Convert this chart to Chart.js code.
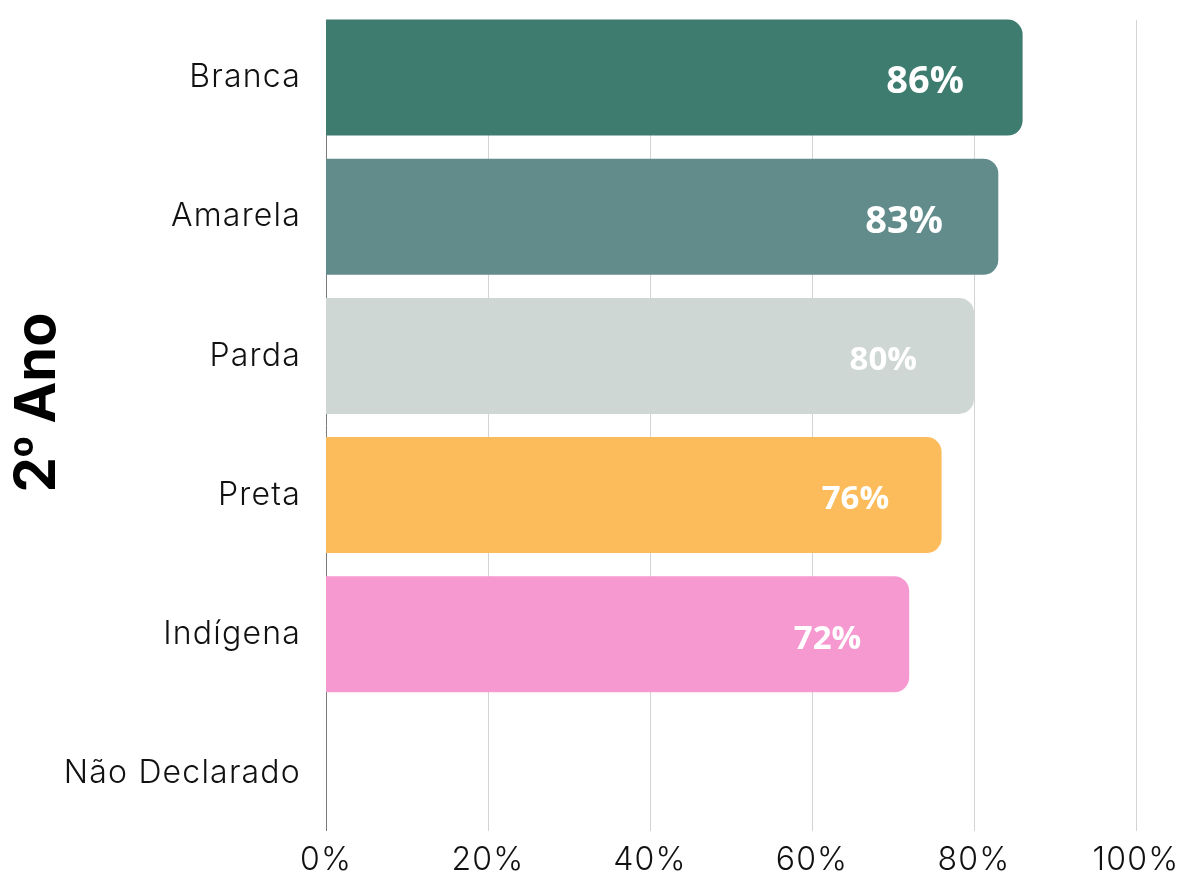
<!DOCTYPE html>
<html>
<head>
<meta charset="utf-8">
<script src="https://cdn.jsdelivr.net/npm/chart.js@4/dist/chart.umd.min.js"></script>
<style>
  html, body { margin: 0; padding: 0; background: #fff; }
  #wrap { width: 1189px; height: 874px; }
</style>
</head>
<body>
<div id="wrap"><canvas id="myChart" width="1189" height="874"></canvas></div>
<script>
const categories = ['Branca', 'Amarela', 'Parda', 'Preta', 'Indígena', 'Não Declarado'];
const values = [86, 83, 80, 76, 72, null];
const xTicks = [0, 20, 40, 60, 80, 100];
const axisTitle = '2º Ano';

const barColors = ['#3e7c6f', '#628b8c', '#cfd7d4', '#fdbc5b', '#f699d0', '#cccccc'];
const labelSizes = [38, 38, 33, 33, 33, 33];

// a little tracking on the axis text (canvas state is reset on resize, so set it per update)
const tracking = {
  id: 'tracking',
  beforeUpdate(chart) { chart.ctx.letterSpacing = '1.2px'; },
  beforeDraw(chart) { chart.ctx.letterSpacing = '1.2px'; }
};

// vertical grid lines, only as tall as the bars
const barGrid = {
  id: 'barGrid',
  beforeDatasetsDraw(chart) {
    const { ctx, scales: { x, y } } = chart;
    const half = chart.getDatasetMeta(0).data[0].height / 2;
    const top = Math.round(y.getPixelForValue(0) - half);
    const bottom = Math.round(y.getPixelForValue(categories.length - 1) + half);
    ctx.save();
    ctx.lineWidth = 1;
    xTicks.forEach((t, i) => {
      const px = Math.round(x.getPixelForValue(t)) + 0.5;
      ctx.strokeStyle = i === 0 ? '#7a7a7a' : '#d3d3d3';
      ctx.beginPath();
      ctx.moveTo(px, top);
      ctx.lineTo(px, bottom);
      ctx.stroke();
    });
    ctx.restore();
  }
};

// white percentage labels inside the bars
const barLabels = {
  id: 'barLabels',
  afterDatasetsDraw(chart) {
    const { ctx } = chart;
    const meta = chart.getDatasetMeta(0);
    ctx.save();
    ctx.letterSpacing = '0px';
    ctx.fillStyle = '#ffffff';
    ctx.textAlign = 'center';
    ctx.textBaseline = 'middle';
    meta.data.forEach((bar, i) => {
      const v = values[i];
      if (v == null) return;
      ctx.font = 'bold ' + labelSizes[i] + 'px "Open Sans"';
      const cx = bar.base + (bar.x - bar.base) * 0.86;
      ctx.fillText(v + '%', cx, bar.y + 5);
    });
    ctx.restore();
  }
};

// rotated "2º Ano" title left of the category labels; the º comes from
// Liberation Sans so it keeps its underline
const sideTitle = {
  id: 'sideTitle',
  afterDraw(chart) {
    const { ctx, chartArea } = chart;
    const fontFor = ch => ch === 'º' ? 'bold 56px "Liberation Sans"' : 'bold 56px Inter';
    const chars = Array.from(axisTitle);
    ctx.save();
    ctx.letterSpacing = '0px';
    ctx.translate(38, (chartArea.top + chartArea.bottom) / 2 - 23);
    ctx.rotate(-Math.PI / 2);
    ctx.fillStyle = '#000';
    ctx.textAlign = 'left';
    ctx.textBaseline = 'middle';
    let total = 0;
    chars.forEach(ch => { ctx.font = fontFor(ch); total += ctx.measureText(ch).width; });
    let pos = -total / 2;
    chars.forEach(ch => {
      ctx.font = fontFor(ch);
      ctx.fillText(ch, pos, 0);
      pos += ctx.measureText(ch).width;
    });
    ctx.restore();
  }
};

const ctx = document.getElementById('myChart').getContext('2d');
new Chart(ctx, {
  type: 'bar',
  data: {
    labels: categories,
    datasets: [{
      data: values,
      backgroundColor: barColors,
      borderRadius: 15,
      borderSkipped: 'start',
      categoryPercentage: 1,
      barPercentage: 0.834
    }]
  },
  options: {
    indexAxis: 'y',
    responsive: false,
    animation: false,
    layout: { padding: { top: 8, right: 53, left: 0, bottom: 0 } },
    plugins: {
      legend: { display: false },
      tooltip: { enabled: false }
    },
    scales: {
      x: {
        min: 0,
        max: 100,
        ticks: {
          stepSize: 20,
          padding: -2,
          color: '#111',
          font: { family: 'Inter', size: 32, weight: 300 },
          callback: v => v + '%'
        },
        grid: { display: false, drawTicks: false },
        border: { display: false },
        afterFit: s => { s.height = 31; }
      },
      y: {
        ticks: {
          padding: 25,
          color: '#111',
          font: { family: 'Inter', size: 32, weight: 300 }
        },
        grid: { display: false, drawTicks: false },
        border: { display: false },
        afterFit: s => {
          s.width = 326;
          s.paddingTop = 0;
          s.paddingBottom = 0;
        }
      }
    }
  },
  plugins: [tracking, barGrid, barLabels, sideTitle]
});
</script>
</body>
</html>
